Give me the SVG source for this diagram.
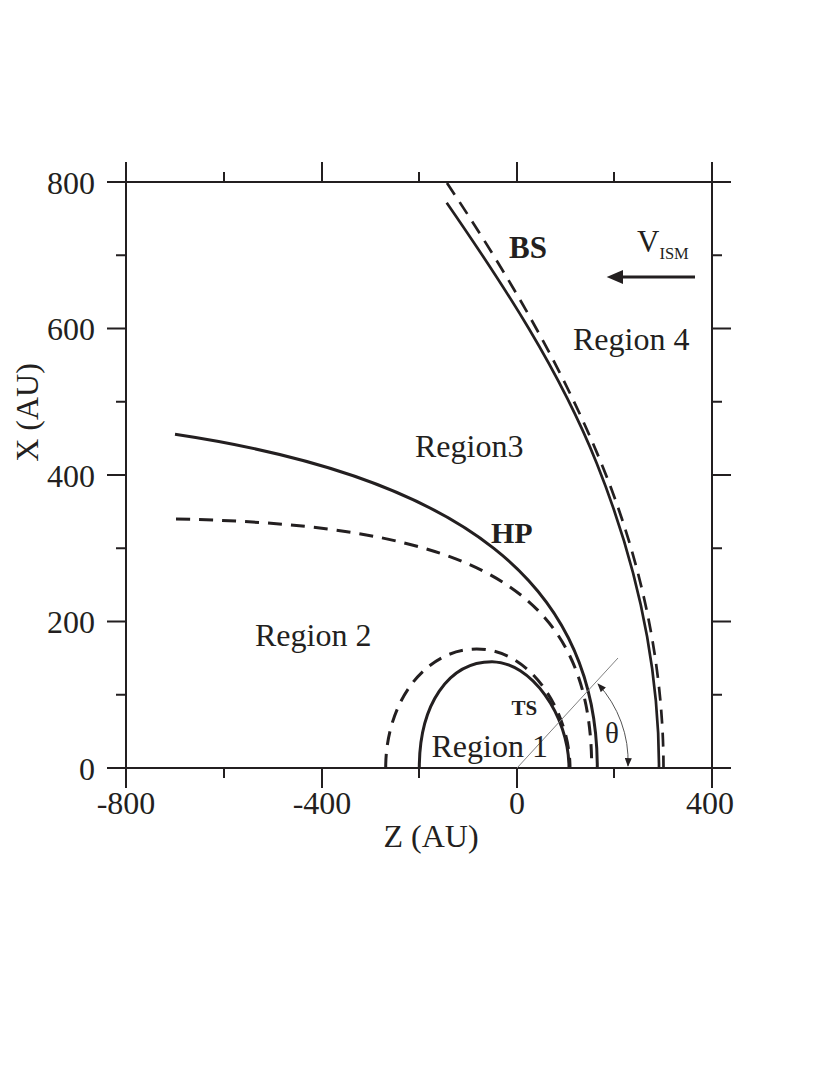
<svg xmlns="http://www.w3.org/2000/svg" width="830" height="1075" viewBox="0 0 830 1075">
<style>
.ax{stroke:#231f20;stroke-width:2;fill:none}
.sol{stroke:#231f20;stroke-width:3;fill:none}
.das{stroke:#231f20;stroke-width:3;fill:none;stroke-dasharray:14 9}
.bs{stroke-width:2.7}
.t{font-family:"Liberation Serif","Times New Roman",serif;font-size:32px;fill:#231f20}
.b{font-weight:bold}
</style>
<defs>
<marker id="sm" viewBox="0 0 10 8" refX="9" refY="4" markerWidth="9" markerHeight="7" markerUnits="userSpaceOnUse" orient="auto-start-reverse">
<path d="M0,0 L10,4 L0,8 Z" fill="#231f20"/>
</marker>
</defs>
<rect width="830" height="1075" fill="#fff"/>
<g id="axes">
<rect x="126" y="182" width="586" height="586" class="ax"/>
<path class="ax" d="M126,162V182M322,162V182M517,162V182M712,162V182M224,172V182M419,172V182M614,172V182
M126,768V788M322,768V788M517,768V788M712,768V788M224,768V778M419,768V778M614,768V778
M107,182H126M107,328.5H126M107,475H126M107,621.5H126M107,768H126M116,255.25H126M116,401.75H126M116,548.25H126M116,694.75H126
M712,182H731M712,328.5H731M712,475H731M712,621.5H731M712,768H731M712,255.25H722M712,401.75H722M712,548.25H722M712,694.75H722"/>
<g class="t" text-anchor="end">
<text x="95" y="193.5">800</text>
<text x="95" y="340">600</text>
<text x="95" y="486.5">400</text>
<text x="95" y="633">200</text>
<text x="95" y="779.5">0</text>
</g>
<g class="t" text-anchor="middle">
<text x="126" y="814">-800</text>
<text x="322" y="814">-400</text>
<text x="517" y="814">0</text>
<text x="710" y="814">400</text>
<text x="431" y="847">Z (AU)</text>
<text transform="translate(38,412.5) rotate(-90)">X (AU)</text>
</g>
</g>
<g id="connectors">
<path id="ts-solid" class="sol" d="M419.3,768 C419.3,704.5 448.4,661.7 492,661.7 C530.5,661.7 569,714.85 569,768"/>
<path id="ts-dashed" class="das" d="M385.7,768 C385.7,701.4 425.7,649 476.7,649 C532.7,649 570,714.5 570,768"/>
<path id="hp-solid" class="sol" d="M175,434.3 C462.2,477.4 597.3,584.1 597.3,768"/>
<path id="hp-dashed" class="das" d="M176,519 C475.3,525 591.7,587.7 591.7,768"/>
<path id="bs-solid" class="sol bs" d="M446.7,202.7 C503.5,285 559.6,370.5 596.7,463.3 C635.3,559.8 659,664 659,768"/>
<path id="bs-dashed" class="das bs" d="M447,183 C508.6,275.4 566.2,373.4 606.7,476.7 C642.8,568.9 663.5,669 663.5,768"/>
<line id="theta-line" x1="517" y1="768" x2="618" y2="658" stroke="#808080" stroke-width="1"/>
<path id="theta-arc" d="M598,684 A114,114 0 0 1 628,766" fill="none" stroke="#555" stroke-width="1" marker-start="url(#sm)" marker-end="url(#sm)"/>
<g id="vism-arrow">
<line x1="620" y1="277" x2="695" y2="277" stroke="#231f20" stroke-width="3"/>
<polygon points="606.7,277 623,270 623,284" fill="#231f20"/>
</g>
</g>
<g id="labels">
<text id="lbl-bs" class="t b" x="509" y="258" style="font-size:31px">BS</text>
<text id="lbl-hp" class="t b" x="491" y="543" style="font-size:30px">HP</text>
<text id="lbl-ts" class="t b" x="511.5" y="715" style="font-size:21px">TS</text>
<text id="lbl-vism" class="t" x="637" y="252" style="font-size:31px">V<tspan style="font-size:16.5px" dy="7">ISM</tspan></text>
<text id="lbl-r1" class="t" x="431.5" y="757">Region 1</text>
<text id="lbl-r2" class="t" x="255" y="646">Region 2</text>
<text id="lbl-r3" class="t" x="415" y="457">Region3</text>
<text id="lbl-r4" class="t" x="573" y="350">Region 4</text>
<text id="lbl-theta" class="t" x="605" y="743" style="font-size:29px">θ</text>
</g>
</svg>
